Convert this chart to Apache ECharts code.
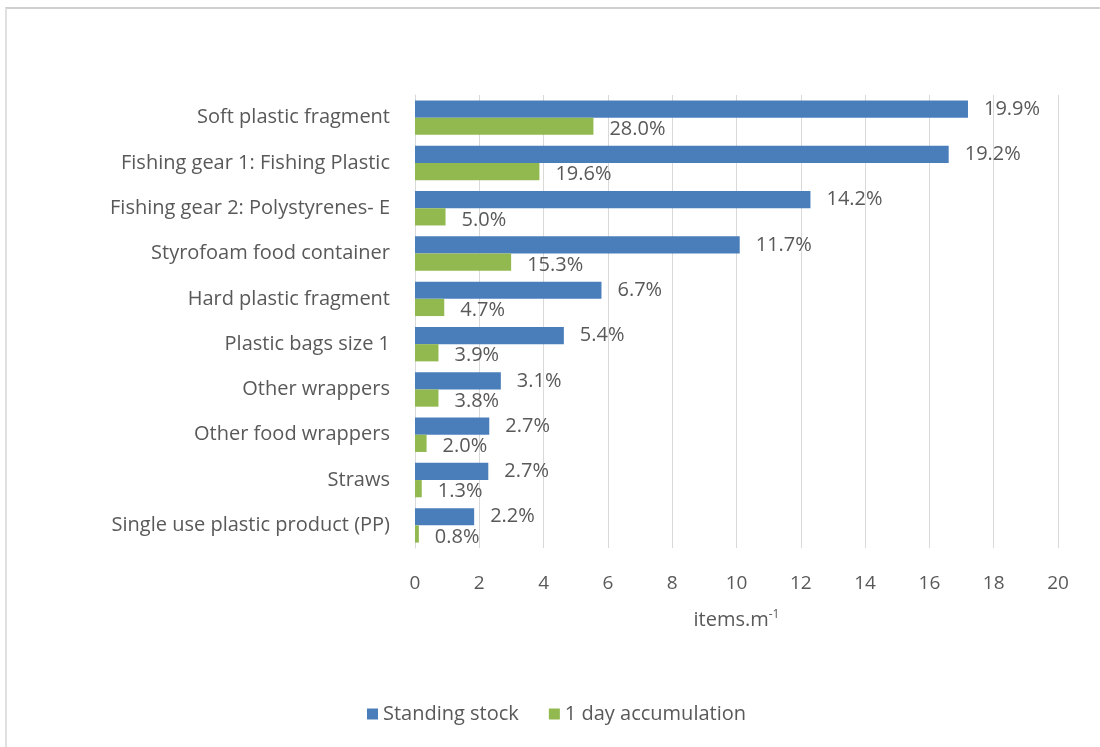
<!DOCTYPE html>
<html>
<head>
<meta charset="utf-8">
<title>Plastic items</title>
<style>
	html, body { margin: 0; padding: 0; background: #fff; }
	#wrap { position: relative; width: 1100px; height: 747px; }
	#chart { width: 1100px; height: 747px; }
	#frame {
		position: absolute; left: 5px; top: 7px; right: 0; bottom: 0;
		border-top: 2px solid #cfcfcf; border-left: 2px solid #e0e0e0;
		pointer-events: none;
	}
</style>
</head>
<body>
<div id="wrap">
	<div id="chart"></div>
	<div id="frame"></div>
</div>
<script src="https://cdn.jsdelivr.net/npm/echarts@6/dist/echarts.min.js"></script>
<script>
const CATEGORIES = [
	'Soft plastic fragment',
	'Fishing gear 1: Fishing Plastic',
	'Fishing gear 2: Polystyrenes- E',
	'Styrofoam food container',
	'Hard plastic fragment',
	'Plastic bags size 1',
	'Other wrappers',
	'Other food wrappers',
	'Straws',
	'Single use plastic product (PP)'
];
const STANDING_STOCK = [17.2, 16.6, 12.3, 10.1, 5.8, 4.63, 2.67, 2.31, 2.28, 1.84];
const ONE_DAY = [5.55, 3.87, 0.95, 2.99, 0.91, 0.73, 0.73, 0.36, 0.21, 0.12];
const STANDING_PCT = ['19.9%', '19.2%', '14.2%', '11.7%', '6.7%', '5.4%', '3.1%', '2.7%', '2.7%', '2.2%'];
const ONE_DAY_PCT = ['28.0%', '19.6%', '5.0%', '15.3%', '4.7%', '3.9%', '3.8%', '2.0%', '1.3%', '0.8%'];
const X_TICKS = [0, 2, 4, 6, 8, 10, 12, 14, 16, 18, 20];

const FONT = "'Open Sans', 'Liberation Sans', sans-serif";
const TXT_COLOR = '#595959';

var chart = echarts.init(document.getElementById('chart'));

var option = {
	animation: false,
	textStyle: { fontFamily: FONT },
	grid: { left: 415, right: 42, top: 95, bottom: 199 },
	legend: {
		bottom: 18,
		left: 362,
		itemWidth: 11,
		itemHeight: 11,
		itemGap: 30,
		icon: 'rect',
		textStyle: { fontSize: 20, color: TXT_COLOR, fontFamily: FONT },
		data: ['Standing stock', '1 day accumulation']
	},
	xAxis: {
		type: 'value',
		min: X_TICKS[0],
		max: X_TICKS[X_TICKS.length - 1],
		interval: 2,
		axisLine: { show: false },
		axisTick: { show: false },
		splitLine: { lineStyle: { color: '#d9d9d9', width: 1 } },
		axisLabel: { fontSize: 19, color: TXT_COLOR, margin: 26, fontFamily: FONT },
		name: '{a|items.m}{s|-1}',
		nameLocation: 'middle',
		nameGap: 61,
		nameTextStyle: {
			rich: {
				a: { fontSize: 20, color: TXT_COLOR, fontFamily: FONT },
				s: { fontSize: 12, color: TXT_COLOR, fontFamily: FONT, verticalAlign: 'top', padding: [0, 0, 10, 0] }
			}
		}
	},
	yAxis: {
		type: 'category',
		inverse: true,
		data: CATEGORIES,
		axisLine: { show: true, lineStyle: { color: '#d9d9d9' } },
		axisTick: { show: false },
		axisLabel: { fontSize: 20, color: TXT_COLOR, margin: 25, fontFamily: FONT }
	},
	series: [
		{
			name: 'Standing stock',
			type: 'bar',
			data: STANDING_STOCK,
			barGap: '0%',
			barCategoryGap: '24%',
			itemStyle: { color: '#4a7ebb' },
			label: {
				show: true,
				position: 'right',
				distance: 16,
				fontSize: 20,
				color: TXT_COLOR,
				fontFamily: FONT,
				formatter: p => STANDING_PCT[p.dataIndex]
			}
		},
		{
			name: '1 day accumulation',
			type: 'bar',
			data: ONE_DAY,
			barGap: '0%',
			barCategoryGap: '24%',
			itemStyle: { color: '#92b94f' },
			label: {
				show: true,
				position: 'right',
				distance: 16,
				offset: [0, 3],
				fontSize: 20,
				color: TXT_COLOR,
				fontFamily: FONT,
				formatter: p => ONE_DAY_PCT[p.dataIndex]
			}
		}
	]
};

chart.setOption(option);
</script>
</body>
</html>
